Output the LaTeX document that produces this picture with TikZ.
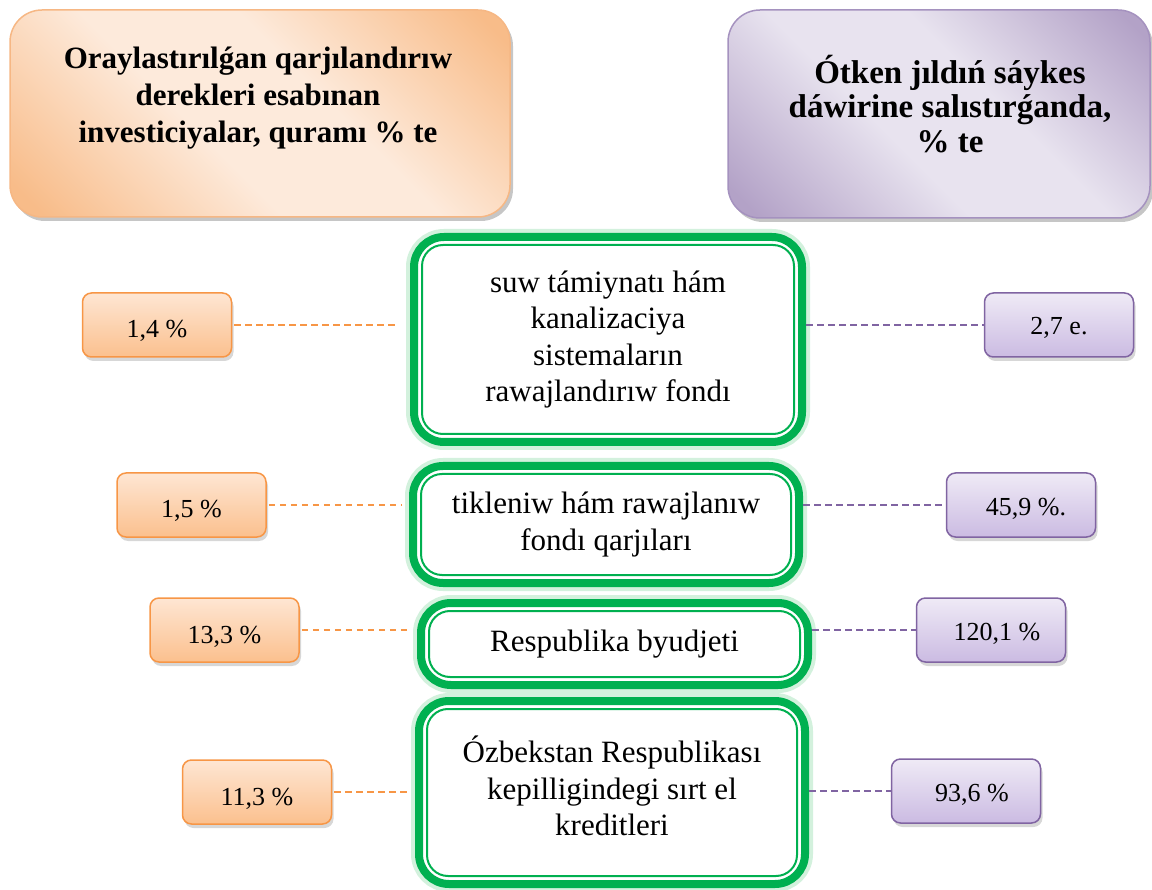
\documentclass[tikz,border=0pt]{standalone}
\usepackage{fontspec}
\setmainfont{Liberation Serif}
\usetikzlibrary{shadows}
\definecolor{oD}{HTML}{F8BC89}
\definecolor{oL}{HTML}{FDEADB}
\definecolor{oEdge}{HTML}{F6B784}
\definecolor{pD}{HTML}{B3A2C7}
\definecolor{pL}{HTML}{E8E3EF}
\definecolor{pEdge}{HTML}{A592BF}
\definecolor{oTop}{HTML}{FEE6D3}
\definecolor{oBot}{HTML}{FBC08E}
\definecolor{oLine}{HTML}{F79646}
\definecolor{pTop}{HTML}{EFEAF6}
\definecolor{pBot}{HTML}{CBBBE2}
\definecolor{pLine}{HTML}{8064A2}
\definecolor{gr}{HTML}{00B050}
\definecolor{glow}{HTML}{D3F1DD}
\pgfdeclarehorizontalshading{oshade}{100bp}{color(0bp)=(oD); color(18bp)=(oD); color(42bp)=(oL); color(58bp)=(oL); color(82bp)=(oD); color(100bp)=(oD)}
\pgfdeclarehorizontalshading{pshade}{100bp}{color(0bp)=(pD); color(18bp)=(pD); color(42bp)=(pL); color(58bp)=(pL); color(82bp)=(pD); color(100bp)=(pD)}
\begin{document}
\begin{tikzpicture}[x=1pt,y=-1pt,
  hdr/.style={rounded corners=32pt, line width=1.5pt, inner sep=0pt, shade, shading angle=45,
    drop shadow={shadow xshift=3pt, shadow yshift=-4pt, fill=black!50, opacity=0.45}},
  hdrL/.style={hdr, draw=oEdge, shading=oshade, minimum width=500pt, minimum height=207pt},
  hdrR/.style={hdr, draw=pEdge, shading=pshade, minimum width=422pt, minimum height=208pt},
  hdrtxt/.style={align=center, inner sep=0pt, font=\bfseries\fontsize{31}{37}\selectfont},
  gbox/.style={draw=gr, line width=8pt, rounded corners=30pt, fill=white, inner sep=0pt,
    preaction={draw=glow, line width=16pt},
    align=center, font=\fontsize{31}{36.5}\selectfont},
  gin/.style={draw=gr, line width=2pt, rounded corners=21pt},
  gtxt/.style={align=center, inner sep=0pt, font=\fontsize{31}{36.5}\selectfont},
  small/.style={rounded corners=9pt, line width=1.5pt, minimum width=149pt, minimum height=64pt,
    inner sep=0pt, font=\fontsize{26}{30}\selectfont,
    drop shadow={shadow xshift=2pt, shadow yshift=-4pt, fill=black!45, opacity=0.35}},
  obox/.style={small, draw=oLine, top color=oTop, bottom color=oBot, text height=26pt, text depth=0pt},
  pbox/.style={small, draw=pLine, top color=pTop, bottom color=pBot, text height=20pt, text depth=0pt},
  odash/.style={draw=oLine, line width=1.8pt, dash pattern=on 6.5pt off 4.5pt},
  pdash/.style={draw=pLine, line width=1.8pt, dash pattern=on 6.5pt off 4.5pt}
]
\useasboundingbox (0,0) rectangle (1152,890);

% headers
\node[hdrL] (hL) at (260,113.5) {};
\node[hdrtxt] (hLt) at (258,98) {Oraylastırılǵan qarjılandırıw\\derekleri esabınan\\investiciyalar, quramı \% te};
\node[hdrR] (hR) at (939,114) {};
\node[hdrtxt, font=\bfseries\fontsize{33}{34.5}\selectfont] (hRt) at (950,104) {Ótken jıldıń sáykes\\dáwirine salıstırǵanda,\\\% te};

% green boxes
\node[gbox, minimum width=388pt, minimum height=205pt] (g1) at (608,339.5)
  {suw támiynatı hám\\kanalizaciya\\sistemaların\\rawajlandırıw fondı};
\draw[gin] ([shift={(12,12)}]g1.north west) rectangle ([shift={(-12,-12)}]g1.south east);
\node[gbox, minimum width=386pt, minimum height=117pt] (g2) at (606,524.5)
  {tikleniw hám rawajlanıw\\fondı qarjıları};
\draw[gin] ([shift={(12,12)}]g2.north west) rectangle ([shift={(-12,-12)}]g2.south east);
\node[gbox, minimum width=387pt, minimum height=82pt] (g3) at (614.5,644)
  {Respublika byudjeti};
\draw[gin] ([shift={(12,12)}]g3.north west) rectangle ([shift={(-12,-12)}]g3.south east);
\node[gbox, minimum width=386pt, minimum height=183pt] (g4) at (612,792.5) {};
\draw[gin] ([shift={(12,12)}]g4.north west) rectangle ([shift={(-12,-12)}]g4.south east);
\node[gtxt] (g4t) at (612,786) {Ózbekstan Respublikası\\kepilligindegi sırt el\\kreditleri};

% left values
\node[obox] (s1) at (157,325) {1,4 \%};
\node[obox] (s2) at (191.5,505) {1,5 \%};
\node[obox] (s3) at (224.5,630) {13,3 \%};
\node[obox] (s4) at (257,792) {11,3 \%};

% right values
\node[pbox] (p1) at (1059,325) {2,7 e.};
\node[pbox] (p2) at (1021,505) {\hspace*{10pt}45,9 \%.};
\node[pbox] (p3) at (991,630) {\hspace*{12pt}120,1 \%};
\node[pbox] (p4) at (966,791) {\hspace*{12pt}93,6 \%};

% connectors
\draw[odash, shorten <=2pt, shorten >=13pt] (s1.east) -- (s1.east -| g1.west);
\draw[odash, shorten <=2pt, shorten >=7pt] (s2.east) -- (s2.east -| g2.west);
\draw[odash, shorten <=2pt, shorten >=9pt] (s3.east) -- (s3.east -| g3.west);
\draw[odash, shorten <=2pt, shorten >=8pt] (s4.east) -- (s4.east -| g4.west);
\draw[pdash] (g1.east |- p1.west) -- (p1.west);
\draw[pdash] (g2.east |- p2.west) -- (p2.west);
\draw[pdash] (g3.east |- p3.west) -- (p3.west);
\draw[pdash] (g4.east |- p4.west) -- (p4.west);
\end{tikzpicture}
\end{document}
